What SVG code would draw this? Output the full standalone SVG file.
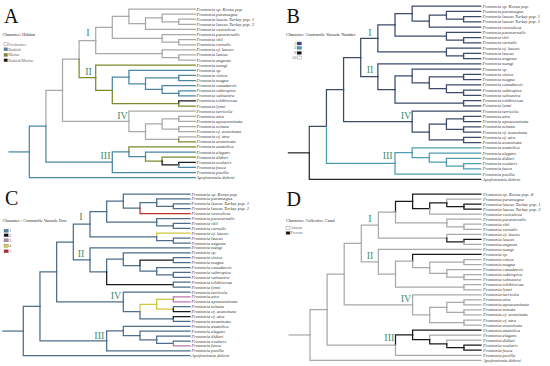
<svg xmlns="http://www.w3.org/2000/svg" width="550" height="366" viewBox="0 0 550 366">
<style>
.e{fill:none;stroke-width:1.25;stroke-linecap:square;vector-effect:non-scaling-stroke}
.tx{font-family:"Liberation Serif",serif;font-style:italic;font-size:4.6px;fill:#333}
.lg{font-family:"Liberation Serif",serif;font-size:4.4px;fill:#222}
.li{font-family:"Liberation Serif",serif;font-size:4px;fill:#666}
.pl{font-family:"Liberation Serif",serif;font-size:20px;fill:#111}
.cl{font-family:"Liberation Serif",serif;font-size:10px;fill:#3f8f6f;text-anchor:middle}
.f{stroke:#a9a9a9}.b{stroke:#4b86a3}.m{stroke:#7b8a2c}.k{stroke:#1a1a1a}
.n1{stroke:#3c4a6c}.n2{stroke:#4c9eae}.n9{stroke:#2a2a2a}
.c1{stroke:#4e6e8c}.c2{stroke:#1a1a1a}.c3{stroke:#b87aa8}.c4{stroke:#cfc83a}.c7{stroke:#c0302a}
.a{stroke:#a9a9a9}.p{stroke:#1a1a1a}
.bx{stroke:#777;stroke-width:0.4}
</style>
<rect width="550" height="366" fill="#fff"/>

<!-- ================= PANEL A ================= -->
<text class="pl" x="4" y="23.3">A</text>
<g id="A-legend">
<text class="lg" x="2.7" y="35.8">Character: Habitat</text>
<rect class="bx" x="4" y="42.8" width="3.5" height="3" fill="#fff"/><text class="li" x="8.3" y="45.7">Freshwater</text>
<rect class="bx" x="4" y="47.8" width="3.5" height="3" fill="#4b86a3"/><text class="li" x="8.3" y="50.7">Brakish</text>
<rect class="bx" x="4" y="53.5" width="3.5" height="3" fill="#7b8a2c"/><text class="li" x="8.3" y="56.4">Marine</text>
<rect class="bx" x="4" y="58.8" width="3.5" height="3" fill="#111"/><text class="li" x="8.3" y="61.7">Brakish/Marine</text>
</g>
<g id="A-connectors" transform="translate(29.3,9) scale(16.6,5.11)">
<path class="e b" d="M-1.22 27.97H0"/>
<path class="e b" d="M0 27.97V22.94H1"/>
<path class="e b" d="M0 27.97V33H10"/>
<path class="e f" d="M1 22.94V15.91H2"/>
<path class="e b" d="M1 22.94V29.97H5"/>
<path class="e f" d="M2 15.91V9.81H3"/>
<path class="e f" d="M2 15.91V22H6"/>
<path class="e f" d="M3 9.81V6.17H4"/>
<path class="e m" d="M3 9.81V13.45H4"/>
<path class="e f" d="M4 6.17V3.59H5"/>
<path class="e f" d="M4 6.17V8.75H8"/>
<path class="e f" d="M5 3.59V1.44H6"/>
<path class="e f" d="M5 3.59V5.75H8"/>
<path class="e f" d="M6 1.44V0H10"/>
<path class="e f" d="M6 1.44V2.88H7"/>
<path class="e f" d="M7 2.88V1.75H8"/>
<path class="e f" d="M7 2.88V4H10"/>
<path class="e f" d="M8 1.75V1H10"/>
<path class="e f" d="M8 1.75V2.5H9"/>
<path class="e f" d="M9 2.5V2H10"/>
<path class="e f" d="M9 2.5V3H10"/>
<path class="e f" d="M8 5.75V5H10"/>
<path class="e f" d="M8 5.75V6.5H9"/>
<path class="e f" d="M9 6.5V6H10"/>
<path class="e f" d="M9 6.5V7H10"/>
<path class="e f" d="M8 8.75V8H10"/>
<path class="e f" d="M8 8.75V9.5H9"/>
<path class="e f" d="M9 9.5V9H10"/>
<path class="e f" d="M9 9.5V10H10"/>
<path class="e m" d="M4 13.45V11H10"/>
<path class="e m" d="M4 13.45V15.91H5"/>
<path class="e b" d="M5 15.91V13.31H6"/>
<path class="e m" d="M5 15.91V18.5H9"/>
<path class="e b" d="M6 13.31V12H10"/>
<path class="e b" d="M6 13.31V14.63H7"/>
<path class="e b" d="M7 14.63V13.5H9"/>
<path class="e b" d="M7 14.63V15.75H8"/>
<path class="e b" d="M9 13.5V13H10"/>
<path class="e b" d="M9 13.5V14H10"/>
<path class="e b" d="M8 15.75V15H10"/>
<path class="e b" d="M8 15.75V16.5H9"/>
<path class="e b" d="M9 16.5V16H10"/>
<path class="e b" d="M9 16.5V17H10"/>
<path class="e k" d="M9 18.5V18H10"/>
<path class="e m" d="M9 18.5V19H10"/>
<path class="e f" d="M6 22V20H10"/>
<path class="e f" d="M6 22V24H7"/>
<path class="e f" d="M7 24V22.5H8"/>
<path class="e f" d="M7 24V25.5H9"/>
<path class="e f" d="M8 22.5V21.5H9"/>
<path class="e f" d="M8 22.5V23.5H9"/>
<path class="e f" d="M9 21.5V21H10"/>
<path class="e f" d="M9 21.5V22H10"/>
<path class="e f" d="M9 23.5V23H10"/>
<path class="e f" d="M9 23.5V24H10"/>
<path class="e f" d="M9 25.5V25H10"/>
<path class="e m" d="M9 25.5V26H10"/>
<path class="e b" d="M5 29.97V27.94H6"/>
<path class="e b" d="M5 29.97V32H10"/>
<path class="e m" d="M6 27.94V27H10"/>
<path class="e b" d="M6 27.94V28.88H7"/>
<path class="e b" d="M7 28.88V28H10"/>
<path class="e m" d="M7 28.88V29.75H8"/>
<path class="e m" d="M8 29.75V29H10"/>
<path class="e k" d="M8 29.75V30.5H9"/>
<path class="e k" d="M9 30.5V30H10"/>
<path class="e b" d="M9 30.5V31H10"/>
</g>
<g id="A-clades">
<text class="cl" x="88" y="36.3">I</text>
<text class="cl" x="88.5" y="74.8">II</text>
<text class="cl" x="122.5" y="119.3">IV</text>
<text class="cl" x="105.5" y="159">III</text>
</g>
<g id="A-taxa" class="tx">
<g id="A-t0"><text x="196.5" y="10.5">Frontonia sp. Korea pop.</text></g>
<g id="A-t1"><text x="196.5" y="15.61">Frontonia paramagna</text></g>
<g id="A-t2"><text x="196.5" y="20.72">Frontonia leucas Turkey pop. 1</text></g>
<g id="A-t3"><text x="196.5" y="25.83">Frontonia leucas Turkey pop. 2</text></g>
<g id="A-t4"><text x="196.5" y="30.94">Frontonia vesiculosa</text></g>
<g id="A-t5"><text x="196.5" y="36.05">Frontonia paravernalis</text></g>
<g id="A-t6"><text x="196.5" y="41.16">Frontonia shii</text></g>
<g id="A-t7"><text x="196.5" y="46.27">Frontonia vernalis</text></g>
<g id="A-t8"><text x="196.5" y="51.38">Frontonia cf. leucas</text></g>
<g id="A-t9"><text x="196.5" y="56.49">Frontonia leucas</text></g>
<g id="A-t10"><text x="196.5" y="61.6">Frontonia angusta</text></g>
<g id="A-t11"><text x="196.5" y="66.71">Frontonia mengi</text></g>
<g id="A-t12"><text x="196.5" y="71.82">Frontonia sp.</text></g>
<g id="A-t13"><text x="196.5" y="76.93">Frontonia sinica</text></g>
<g id="A-t14"><text x="196.5" y="82.04">Frontonia magna</text></g>
<g id="A-t15"><text x="196.5" y="87.15">Frontonia canadensis</text></g>
<g id="A-t16"><text x="196.5" y="92.26">Frontonia subtropica</text></g>
<g id="A-t17"><text x="196.5" y="97.37">Frontonia salmastra</text></g>
<g id="A-t18"><text x="196.5" y="102.48">Frontonia tchibisovae</text></g>
<g id="A-t19"><text x="196.5" y="107.59">Frontonia lynni</text></g>
<g id="A-t20"><text x="196.5" y="112.7">Frontonia terricola</text></g>
<g id="A-t21"><text x="196.5" y="117.81">Frontonia atra</text></g>
<g id="A-t22"><text x="196.5" y="122.92">Frontonia apoacuminata</text></g>
<g id="A-t23"><text x="196.5" y="128.03">Frontonia minuta</text></g>
<g id="A-t24"><text x="196.5" y="133.14">Frontonia cf. acuminata</text></g>
<g id="A-t25"><text x="196.5" y="138.25">Frontonia cf. atra</text></g>
<g id="A-t26"><text x="196.5" y="143.36">Frontonia acuminata</text></g>
<g id="A-t27"><text x="196.5" y="148.47">Frontonia anatolica</text></g>
<g id="A-t28"><text x="196.5" y="153.58">Frontonia elegans</text></g>
<g id="A-t29"><text x="196.5" y="158.69">Frontonia didieri</text></g>
<g id="A-t30"><text x="196.5" y="163.8">Frontonia ocularis</text></g>
<g id="A-t31"><text x="196.5" y="168.91">Frontonia fusca</text></g>
<g id="A-t32"><text x="196.5" y="174.02">Frontonia pusilla</text></g>
<g id="A-t33"><text x="196.5" y="179.13">Apofrontonia dohrni</text></g>
</g>

<!-- ================= PANEL B ================= -->
<text class="pl" x="286.5" y="22.7">B</text>
<g id="B-legend">
<text class="lg" x="286" y="35.5">Character: Contractile Vacuole Number</text>
<text class="li" x="296" y="44.6" text-anchor="end">1</text><rect class="bx" x="297" y="42" width="4.5" height="3" fill="#2f3f86"/>
<text class="li" x="296" y="49" text-anchor="end">2</text><rect class="bx" x="297" y="46.4" width="4.5" height="3" fill="#3aa0c8"/>
<text class="li" x="296" y="54" text-anchor="end">9</text><rect class="bx" x="297" y="51.4" width="4.5" height="3" fill="#111"/>
<text class="li" x="296" y="58.6" text-anchor="end">10</text><rect class="bx" x="297" y="56" width="4.5" height="3" fill="#fff"/>
</g>
<g id="B-connectors" transform="translate(309.3,6) scale(17.14,5.25)">
<path class="e n9" d="M-1.22 27.97H0"/>
<path class="e n1" d="M0 27.97V22.94H1"/>
<path class="e n9" d="M0 27.97V33H10"/>
<path class="e n1" d="M1 22.94V15.91H2"/>
<path class="e n2" d="M1 22.94V29.97H5"/>
<path class="e n1" d="M2 15.91V9.81H3"/>
<path class="e n1" d="M2 15.91V22H6"/>
<path class="e n1" d="M3 9.81V6.17H4"/>
<path class="e n1" d="M3 9.81V13.45H4"/>
<path class="e n1" d="M4 6.17V3.59H5"/>
<path class="e n1" d="M4 6.17V8.75H8"/>
<path class="e n1" d="M5 3.59V1.44H6"/>
<path class="e n1" d="M5 3.59V5.75H8"/>
<path class="e n1" d="M6 1.44V0H10"/>
<path class="e n1" d="M6 1.44V2.88H7"/>
<path class="e n1" d="M7 2.88V1.75H8"/>
<path class="e n1" d="M7 2.88V4H10"/>
<path class="e n1" d="M8 1.75V1H10"/>
<path class="e n1" d="M8 1.75V2.5H9"/>
<path class="e n1" d="M9 2.5V2H10"/>
<path class="e n1" d="M9 2.5V3H10"/>
<path class="e n1" d="M8 5.75V5H10"/>
<path class="e n1" d="M8 5.75V6.5H9"/>
<path class="e n1" d="M9 6.5V6H10"/>
<path class="e n1" d="M9 6.5V7H10"/>
<path class="e n1" d="M8 8.75V8H10"/>
<path class="e n1" d="M8 8.75V9.5H9"/>
<path class="e n1" d="M9 9.5V9H10"/>
<path class="e n1" d="M9 9.5V10H10"/>
<path class="e n1" d="M4 13.45V11H10"/>
<path class="e n1" d="M4 13.45V15.91H5"/>
<path class="e n1" d="M5 15.91V13.31H6"/>
<path class="e n1" d="M5 15.91V18.5H9"/>
<path class="e n1" d="M6 13.31V12H10"/>
<path class="e n1" d="M6 13.31V14.63H7"/>
<path class="e n1" d="M7 14.63V13.5H9"/>
<path class="e n1" d="M7 14.63V15.75H8"/>
<path class="e n1" d="M9 13.5V13H10"/>
<path class="e n1" d="M9 13.5V14H10"/>
<path class="e n1" d="M8 15.75V15H10"/>
<path class="e n1" d="M8 15.75V16.5H9"/>
<path class="e n1" d="M9 16.5V16H10"/>
<path class="e n1" d="M9 16.5V17H10"/>
<path class="e n1" d="M9 18.5V18H10"/>
<path class="e n1" d="M9 18.5V19H10"/>
<path class="e n1" d="M6 22V20H10"/>
<path class="e n1" d="M6 22V24H7"/>
<path class="e n1" d="M7 24V22.5H8"/>
<path class="e n1" d="M7 24V25.5H9"/>
<path class="e n1" d="M8 22.5V21.5H9"/>
<path class="e n1" d="M8 22.5V23.5H9"/>
<path class="e n1" d="M9 21.5V21H10"/>
<path class="e n1" d="M9 21.5V22H10"/>
<path class="e n1" d="M9 23.5V23H10"/>
<path class="e n1" d="M9 23.5V24H10"/>
<path class="e n1" d="M9 25.5V25H10"/>
<path class="e n1" d="M9 25.5V26H10"/>
<path class="e n2" d="M5 29.97V27.94H6"/>
<path class="e n2" d="M5 29.97V32H10"/>
<path class="e n2" d="M6 27.94V27H10"/>
<path class="e n2" d="M6 27.94V28.88H7"/>
<path class="e n2" d="M7 28.88V28H10"/>
<path class="e n2" d="M7 28.88V29.75H8"/>
<path class="e n2" d="M8 29.75V29H10"/>
<path class="e n2" d="M8 29.75V30.5H9"/>
<path class="e n2" d="M9 30.5V30H10"/>
<path class="e n2" d="M9 30.5V31H10"/>
</g>
<g id="B-clades">
<text class="cl" x="370" y="36">I</text>
<text class="cl" x="370" y="73.3">II</text>
<text class="cl" x="406" y="119.3">IV</text>
<text class="cl" x="387.7" y="159.3">III</text>
</g>
<g id="B-taxa" class="tx">
<g id="B-t0"><text x="482.5" y="7.5">Frontonia sp. Korea pop.</text></g>
<g id="B-t1"><text x="482.5" y="12.75">Frontonia paramagna</text></g>
<g id="B-t2"><text x="482.5" y="18">Frontonia leucas Turkey pop. 1</text></g>
<g id="B-t3"><text x="482.5" y="23.25">Frontonia leucas Turkey pop. 2</text></g>
<g id="B-t4"><text x="482.5" y="28.5">Frontonia vesiculosa</text></g>
<g id="B-t5"><text x="482.5" y="33.75">Frontonia paravernalis</text></g>
<g id="B-t6"><text x="482.5" y="39">Frontonia shii</text></g>
<g id="B-t7"><text x="482.5" y="44.25">Frontonia vernalis</text></g>
<g id="B-t8"><text x="482.5" y="49.5">Frontonia cf. leucas</text></g>
<g id="B-t9"><text x="482.5" y="54.75">Frontonia leucas</text></g>
<g id="B-t10"><text x="482.5" y="60">Frontonia angusta</text></g>
<g id="B-t11"><text x="482.5" y="65.25">Frontonia mengi</text></g>
<g id="B-t12"><text x="482.5" y="70.5">Frontonia sp.</text></g>
<g id="B-t13"><text x="482.5" y="75.75">Frontonia sinica</text></g>
<g id="B-t14"><text x="482.5" y="81">Frontonia magna</text></g>
<g id="B-t15"><text x="482.5" y="86.25">Frontonia canadensis</text></g>
<g id="B-t16"><text x="482.5" y="91.5">Frontonia subtropica</text></g>
<g id="B-t17"><text x="482.5" y="96.75">Frontonia salmastra</text></g>
<g id="B-t18"><text x="482.5" y="102">Frontonia tchibisovae</text></g>
<g id="B-t19"><text x="482.5" y="107.25">Frontonia lynni</text></g>
<g id="B-t20"><text x="482.5" y="112.5">Frontonia terricola</text></g>
<g id="B-t21"><text x="482.5" y="117.75">Frontonia atra</text></g>
<g id="B-t22"><text x="482.5" y="123">Frontonia apoacuminata</text></g>
<g id="B-t23"><text x="482.5" y="128.25">Frontonia minuta</text></g>
<g id="B-t24"><text x="482.5" y="133.5">Frontonia cf. acuminata</text></g>
<g id="B-t25"><text x="482.5" y="138.75">Frontonia cf. atra</text></g>
<g id="B-t26"><text x="482.5" y="144">Frontonia acuminata</text></g>
<g id="B-t27"><text x="482.5" y="149.25">Frontonia anatolica</text></g>
<g id="B-t28"><text x="482.5" y="154.5">Frontonia elegans</text></g>
<g id="B-t29"><text x="482.5" y="159.75">Frontonia didieri</text></g>
<g id="B-t30"><text x="482.5" y="165">Frontonia ocularis</text></g>
<g id="B-t31"><text x="482.5" y="170.25">Frontonia fusca</text></g>
<g id="B-t32"><text x="482.5" y="175.5">Frontonia pusilla</text></g>
<g id="B-t33"><text x="482.5" y="180.75">Apofrontonia dohrni</text></g>
</g>

<!-- ================= PANEL C ================= -->
<text class="pl" x="5" y="204.7">C</text>
<g id="C-legend">
<text class="lg" x="2.7" y="222.2">Character : Contractile Vacuole Pore</text>
<rect class="bx" x="4" y="229.2" width="4.3" height="3" fill="#4a80b0"/><text class="li" x="9.3" y="232.1">1</text>
<rect class="bx" x="4" y="233.8" width="4.3" height="3" fill="#111"/><text class="li" x="9.3" y="236.7">2</text>
<rect class="bx" x="4" y="238.8" width="4.3" height="3" fill="#c080b8"/><text class="li" x="9.3" y="241.7">3</text>
<rect class="bx" x="4" y="244.2" width="4.3" height="3" fill="#d8d040"/><text class="li" x="9.3" y="247.1">4</text>
<rect class="bx" x="4" y="249.8" width="4.3" height="3" fill="#c82020"/><text class="li" x="9.3" y="252.7">7</text>
</g>
<g id="C-connectors" transform="translate(23.3,194) scale(16.67,4.9)">
<path class="e c1" d="M-1.22 27.97H0"/>
<path class="e c1" d="M0 27.97V22.94H1"/>
<path class="e c1" d="M0 27.97V33H10"/>
<path class="e c1" d="M1 22.94V15.91H2"/>
<path class="e c1" d="M1 22.94V29.97H5"/>
<path class="e c1" d="M2 15.91V9.81H3"/>
<path class="e c1" d="M2 15.91V22H6"/>
<path class="e c1" d="M3 9.81V6.17H4"/>
<path class="e c1" d="M3 9.81V13.45H4"/>
<path class="e c1" d="M4 6.17V3.59H5"/>
<path class="e c1" d="M4 6.17V8.75H8"/>
<path class="e c1" d="M5 3.59V1.44H6"/>
<path class="e c1" d="M5 3.59V5.75H8"/>
<path class="e c1" d="M6 1.44V0H10"/>
<path class="e c1" d="M6 1.44V2.88H7"/>
<path class="e c1" d="M7 2.88V1.75H8"/>
<path class="e c7" d="M7 2.88V4H10"/>
<path class="e c1" d="M8 1.75V1H10"/>
<path class="e c1" d="M8 1.75V2.5H9"/>
<path class="e c1" d="M9 2.5V2H10"/>
<path class="e c1" d="M9 2.5V3H10"/>
<path class="e c1" d="M8 5.75V5H10"/>
<path class="e c1" d="M8 5.75V6.5H9"/>
<path class="e c1" d="M9 6.5V6H10"/>
<path class="e c1" d="M9 6.5V7H10"/>
<path class="e c4" d="M8 8.75V8H10"/>
<path class="e c1" d="M8 8.75V9.5H9"/>
<path class="e c1" d="M9 9.5V9H10"/>
<path class="e c1" d="M9 9.5V10H10"/>
<path class="e c1" d="M4 13.45V11H10"/>
<path class="e c1" d="M4 13.45V15.91H5"/>
<path class="e c1" d="M5 15.91V13.31H6"/>
<path class="e c2" d="M5 15.91V18.5H9"/>
<path class="e c1" d="M6 13.31V12H10"/>
<path class="e c1" d="M6 13.31V14.63H7"/>
<path class="e c2" d="M7 14.63V13.5H9"/>
<path class="e c1" d="M7 14.63V15.75H8"/>
<path class="e c1" d="M9 13.5V13H10"/>
<path class="e c1" d="M9 13.5V14H10"/>
<path class="e c1" d="M8 15.75V15H10"/>
<path class="e c1" d="M8 15.75V16.5H9"/>
<path class="e c1" d="M9 16.5V16H10"/>
<path class="e c1" d="M9 16.5V17H10"/>
<path class="e c1" d="M9 18.5V18H10"/>
<path class="e c1" d="M9 18.5V19H10"/>
<path class="e c1" d="M6 22V20H10"/>
<path class="e c1" d="M6 22V24H7"/>
<path class="e c4" d="M7 24V22.5H8"/>
<path class="e c1" d="M7 24V25.5H9"/>
<path class="e c4" d="M8 22.5V21.5H9"/>
<path class="e c4" d="M8 22.5V23.5H9"/>
<path class="e c3" d="M9 21.5V21H10"/>
<path class="e c3" d="M9 21.5V22H10"/>
<path class="e c1" d="M9 23.5V23H10"/>
<path class="e c2" d="M9 23.5V24H10"/>
<path class="e c2" d="M9 25.5V25H10"/>
<path class="e c1" d="M9 25.5V26H10"/>
<path class="e c1" d="M5 29.97V27.94H6"/>
<path class="e c1" d="M5 29.97V32H10"/>
<path class="e c1" d="M6 27.94V27H10"/>
<path class="e c1" d="M6 27.94V28.88H7"/>
<path class="e c1" d="M7 28.88V28H10"/>
<path class="e c1" d="M7 28.88V29.75H8"/>
<path class="e c1" d="M8 29.75V29H10"/>
<path class="e c1" d="M8 29.75V30.5H9"/>
<path class="e c1" d="M9 30.5V30H10"/>
<path class="e c3" d="M9 30.5V31H10"/>
</g>
<g id="C-clades">
<text class="cl" x="81" y="219.6">I</text>
<text class="cl" x="81" y="257.3">II</text>
<text class="cl" x="116" y="299">IV</text>
<text class="cl" x="99.3" y="339">III</text>
</g>
<g id="C-taxa" class="tx">
<g id="C-t0"><text x="191.5" y="195.5">Frontonia sp. Korea pop.</text></g>
<g id="C-t1"><text x="191.5" y="200.4">Frontonia paramagna</text></g>
<g id="C-t2"><text x="191.5" y="205.3">Frontonia leucas Turkey pop. 1</text></g>
<g id="C-t3"><text x="191.5" y="210.2">Frontonia leucas Turkey pop. 2</text></g>
<g id="C-t4"><text x="191.5" y="215.1">Frontonia vesiculosa</text></g>
<g id="C-t5"><text x="191.5" y="220">Frontonia paravernalis</text></g>
<g id="C-t6"><text x="191.5" y="224.9">Frontonia shii</text></g>
<g id="C-t7"><text x="191.5" y="229.8">Frontonia vernalis</text></g>
<g id="C-t8"><text x="191.5" y="234.7">Frontonia cf. leucas</text></g>
<g id="C-t9"><text x="191.5" y="239.6">Frontonia leucas</text></g>
<g id="C-t10"><text x="191.5" y="244.5">Frontonia angusta</text></g>
<g id="C-t11"><text x="191.5" y="249.4">Frontonia mengi</text></g>
<g id="C-t12"><text x="191.5" y="254.3">Frontonia sp.</text></g>
<g id="C-t13"><text x="191.5" y="259.2">Frontonia sinica</text></g>
<g id="C-t14"><text x="191.5" y="264.1">Frontonia magna</text></g>
<g id="C-t15"><text x="191.5" y="269">Frontonia canadensis</text></g>
<g id="C-t16"><text x="191.5" y="273.9">Frontonia subtropica</text></g>
<g id="C-t17"><text x="191.5" y="278.8">Frontonia salmastra</text></g>
<g id="C-t18"><text x="191.5" y="283.7">Frontonia tchibisovae</text></g>
<g id="C-t19"><text x="191.5" y="288.6">Frontonia lynni</text></g>
<g id="C-t20"><text x="191.5" y="293.5">Frontonia terricola</text></g>
<g id="C-t21"><text x="191.5" y="298.4">Frontonia atra</text></g>
<g id="C-t22"><text x="191.5" y="303.3">Frontonia apoacuminata</text></g>
<g id="C-t23"><text x="191.5" y="308.2">Frontonia minuta</text></g>
<g id="C-t24"><text x="191.5" y="313.1">Frontonia cf. acuminata</text></g>
<g id="C-t25"><text x="191.5" y="318">Frontonia cf. atra</text></g>
<g id="C-t26"><text x="191.5" y="322.9">Frontonia acuminata</text></g>
<g id="C-t27"><text x="191.5" y="327.8">Frontonia anatolica</text></g>
<g id="C-t28"><text x="191.5" y="332.7">Frontonia elegans</text></g>
<g id="C-t29"><text x="191.5" y="337.6">Frontonia didieri</text></g>
<g id="C-t30"><text x="191.5" y="342.5">Frontonia ocularis</text></g>
<g id="C-t31"><text x="191.5" y="347.4">Frontonia fusca</text></g>
<g id="C-t32"><text x="191.5" y="352.3">Frontonia pusilla</text></g>
<g id="C-t33"><text x="191.5" y="357.2">Apofrontonia dohrni</text></g>
</g>

<!-- ================= PANEL D ================= -->
<text class="pl" x="286.5" y="206.3">D</text>
<g id="D-legend">
<text class="lg" x="286" y="222.2">Character: Collective Canal</text>
<rect class="bx" x="286" y="226.6" width="4" height="2.8" fill="#fff"/><text class="li" x="290.5" y="229.4">Absent</text>
<rect class="bx" x="286" y="231.6" width="4" height="2.8" fill="#111"/><text class="li" x="290.5" y="234.4">Present</text>
</g>
<g id="D-connectors" transform="translate(310,194) scale(17.1,5.04)">
<path class="e a" d="M-1.22 27.97H0"/>
<path class="e a" d="M0 27.97V22.94H1"/>
<path class="e a" d="M0 27.97V33H10"/>
<path class="e a" d="M1 22.94V15.91H2"/>
<path class="e a" d="M1 22.94V29.97H5"/>
<path class="e a" d="M2 15.91V9.81H3"/>
<path class="e a" d="M2 15.91V22H6"/>
<path class="e a" d="M3 9.81V6.17H4"/>
<path class="e a" d="M3 9.81V13.45H4"/>
<path class="e a" d="M4 6.17V3.59H5"/>
<path class="e a" d="M4 6.17V8.75H8"/>
<path class="e p" d="M5 3.59V1.44H6"/>
<path class="e a" d="M5 3.59V5.75H8"/>
<path class="e p" d="M6 1.44V0H10"/>
<path class="e p" d="M6 1.44V2.88H7"/>
<path class="e p" d="M7 2.88V1.75H8"/>
<path class="e a" d="M7 2.88V4H10"/>
<path class="e a" d="M8 1.75V1H10"/>
<path class="e p" d="M8 1.75V2.5H9"/>
<path class="e p" d="M9 2.5V2H10"/>
<path class="e p" d="M9 2.5V3H10"/>
<path class="e a" d="M8 5.75V5H10"/>
<path class="e a" d="M8 5.75V6.5H9"/>
<path class="e a" d="M9 6.5V6H10"/>
<path class="e a" d="M9 6.5V7H10"/>
<path class="e a" d="M8 8.75V8H10"/>
<path class="e p" d="M8 8.75V9.5H9"/>
<path class="e p" d="M9 9.5V9H10"/>
<path class="e a" d="M9 9.5V10H10"/>
<path class="e a" d="M4 13.45V11H10"/>
<path class="e a" d="M4 13.45V15.91H5"/>
<path class="e a" d="M5 15.91V13.31H6"/>
<path class="e a" d="M5 15.91V18.5H9"/>
<path class="e p" d="M6 13.31V12H10"/>
<path class="e a" d="M6 13.31V14.63H7"/>
<path class="e a" d="M7 14.63V13.5H9"/>
<path class="e a" d="M7 14.63V15.75H8"/>
<path class="e a" d="M9 13.5V13H10"/>
<path class="e a" d="M9 13.5V14H10"/>
<path class="e a" d="M8 15.75V15H10"/>
<path class="e a" d="M8 15.75V16.5H9"/>
<path class="e a" d="M9 16.5V16H10"/>
<path class="e a" d="M9 16.5V17H10"/>
<path class="e a" d="M9 18.5V18H10"/>
<path class="e a" d="M9 18.5V19H10"/>
<path class="e a" d="M6 22V20H10"/>
<path class="e a" d="M6 22V24H7"/>
<path class="e a" d="M7 24V22.5H8"/>
<path class="e a" d="M7 24V25.5H9"/>
<path class="e a" d="M8 22.5V21.5H9"/>
<path class="e a" d="M8 22.5V23.5H9"/>
<path class="e a" d="M9 21.5V21H10"/>
<path class="e a" d="M9 21.5V22H10"/>
<path class="e a" d="M9 23.5V23H10"/>
<path class="e a" d="M9 23.5V24H10"/>
<path class="e a" d="M9 25.5V25H10"/>
<path class="e a" d="M9 25.5V26H10"/>
<path class="e p" d="M5 29.97V27.94H6"/>
<path class="e a" d="M5 29.97V32H10"/>
<path class="e p" d="M6 27.94V27H10"/>
<path class="e p" d="M6 27.94V28.88H7"/>
<path class="e a" d="M7 28.88V28H10"/>
<path class="e p" d="M7 28.88V29.75H8"/>
<path class="e a" d="M8 29.75V29H10"/>
<path class="e p" d="M8 29.75V30.5H9"/>
<path class="e p" d="M9 30.5V30H10"/>
<path class="e p" d="M9 30.5V31H10"/>
</g>
<g id="D-clades">
<text class="cl" x="370" y="222">I</text>
<text class="cl" x="370" y="259">II</text>
<text class="cl" x="406" y="302.3">IV</text>
<text class="cl" x="389.3" y="341.3">III</text>
</g>
<g id="D-taxa" class="tx">
<g id="D-t0"><text x="483" y="195.5">Frontonia sp. Korea pop. 4</text></g>
<g id="D-t1"><text x="483" y="200.54">Frontonia paramagna</text></g>
<g id="D-t2"><text x="483" y="205.58">Frontonia leucas Turkey pop. 1</text></g>
<g id="D-t3"><text x="483" y="210.62">Frontonia leucas Turkey pop. 2</text></g>
<g id="D-t4"><text x="483" y="215.66">Frontonia vesiculosa</text></g>
<g id="D-t5"><text x="483" y="220.7">Frontonia paravernalis</text></g>
<g id="D-t6"><text x="483" y="225.74">Frontonia shii</text></g>
<g id="D-t7"><text x="483" y="230.78">Frontonia vernalis</text></g>
<g id="D-t8"><text x="483" y="235.82">Frontonia cf. leucas</text></g>
<g id="D-t9"><text x="483" y="240.86">Frontonia leucas</text></g>
<g id="D-t10"><text x="483" y="245.9">Frontonia angusta</text></g>
<g id="D-t11"><text x="483" y="250.94">Frontonia mengi</text></g>
<g id="D-t12"><text x="483" y="255.98">Frontonia sp.</text></g>
<g id="D-t13"><text x="483" y="261.02">Frontonia sinica</text></g>
<g id="D-t14"><text x="483" y="266.06">Frontonia magna</text></g>
<g id="D-t15"><text x="483" y="271.1">Frontonia canadensis</text></g>
<g id="D-t16"><text x="483" y="276.14">Frontonia subtropica</text></g>
<g id="D-t17"><text x="483" y="281.18">Frontonia salmastra</text></g>
<g id="D-t18"><text x="483" y="286.22">Frontonia tchibisovae</text></g>
<g id="D-t19"><text x="483" y="291.26">Frontonia lynni</text></g>
<g id="D-t20"><text x="483" y="296.3">Frontonia terricola</text></g>
<g id="D-t21"><text x="483" y="301.34">Frontonia atra</text></g>
<g id="D-t22"><text x="483" y="306.38">Frontonia apoacuminata</text></g>
<g id="D-t23"><text x="483" y="311.42">Frontonia minuta</text></g>
<g id="D-t24"><text x="483" y="316.46">Frontonia cf. acuminata</text></g>
<g id="D-t25"><text x="483" y="321.5">Frontonia cf. atra</text></g>
<g id="D-t26"><text x="483" y="326.54">Frontonia acuminata</text></g>
<g id="D-t27"><text x="483" y="331.58">Frontonia anatolica</text></g>
<g id="D-t28"><text x="483" y="336.62">Frontonia elegans</text></g>
<g id="D-t29"><text x="483" y="341.66">Frontonia didieri</text></g>
<g id="D-t30"><text x="483" y="346.7">Frontonia ocularis</text></g>
<g id="D-t31"><text x="483" y="351.74">Frontonia fusca</text></g>
<g id="D-t32"><text x="483" y="356.78">Frontonia pusilla</text></g>
<g id="D-t33"><text x="483" y="361.82">Apofrontonia dohrni</text></g>
</g>
</svg>
